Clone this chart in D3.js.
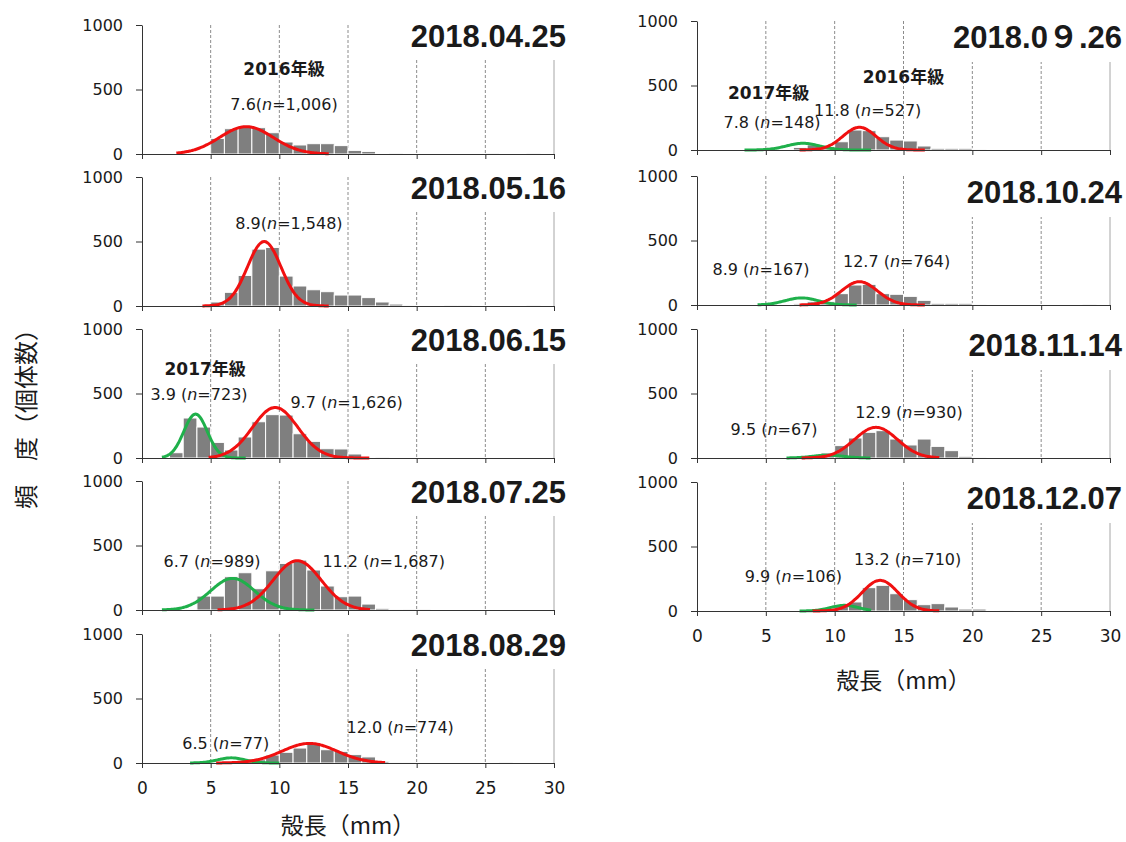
<!DOCTYPE html>
<html>
<head>
<meta charset="utf-8">
<script src="https://cdn.jsdelivr.net/npm/d3@7"></script>
<style>
  body { margin: 0; background: #fff; }
  svg { display: block; }
  text { font-family: "DejaVu Sans", "Noto Sans CJK JP", sans-serif; fill: #1a1a1a; }
</style>
</head>
<body>
<script>
let width = 1126;
let height = 842;

// lower edge of each 1 mm size class
let bins = [0, 1, 2, 3, 4, 5, 6, 7, 8, 9, 10, 11, 12, 13, 14, 15, 16, 17, 18, 19, 20, 21, 22, 23, 24, 25, 26, 27, 28, 29];
let xTicks = [0, 5, 10, 15, 20, 25, 30];
let yTicks = [0, 500, 1000];

let dates = ["2018.04.25", "2018.05.16", "2018.06.15", "2018.07.25", "2018.08.29",
             "2018.0９.26", "2018.10.24", "2018.11.14", "2018.12.07"];

// frequency (individuals) per size class
let freq0425 = [0, 0, 0, 0, 3, 121, 196, 212, 204, 165, 93, 70, 80, 80, 65, 28, 20, 5, 2, 0, 0, 0, 0, 0, 0, 2, 0, 0, 2, 0];
let freq0516 = [0, 0, 0, 0, 8, 31, 106, 237, 441, 454, 232, 155, 126, 111, 85, 85, 65, 31, 15, 3, 0, 0, 2, 2, 0, 0, 0, 0, 2, 0];
let freq0615 = [0, 0, 41, 310, 240, 121, 62, 163, 281, 336, 333, 188, 129, 72, 70, 31, 5, 2, 0, 0, 0, 0, 0, 0, 0, 0, 0, 0, 0, 0];
let freq0725 = [0, 0, 0, 0, 108, 108, 258, 289, 165, 304, 361, 387, 310, 186, 103, 108, 46, 13, 3, 2, 2, 0, 0, 0, 0, 0, 0, 0, 0, 0];
let freq0829 = [0, 0, 0, 0, 3, 5, 10, 10, 25, 62, 83, 116, 155, 103, 90, 65, 47, 13, 3, 3, 0, 0, 0, 0, 0, 0, 2, 0, 0, 0];
let freq0926 = [0, 0, 0, 0, 0, 0, 5, 20, 40, 26, 64, 155, 150, 103, 77, 70, 31, 13, 13, 13, 3, 0, 0, 0, 0, 0, 0, 0, 0, 0];
let freq1024 = [0, 0, 0, 0, 0, 0, 0, 10, 25, 25, 88, 155, 160, 88, 83, 67, 36, 13, 13, 13, 3, 0, 0, 0, 0, 0, 0, 0, 2, 0];
let freq1114 = [0, 0, 0, 0, 0, 0, 0, 0, 8, 39, 96, 155, 199, 212, 147, 101, 147, 90, 57, 13, 3, 0, 0, 0, 0, 0, 0, 0, 0, 0];
let freq1207 = [0, 0, 0, 0, 0, 0, 0, 0, 5, 15, 44, 70, 181, 199, 134, 88, 49, 57, 31, 15, 15, 0, 3, 0, 0, 0, 0, 0, 0, 0];
let freqs = [freq0425, freq0516, freq0615, freq0725, freq0829, freq0926, freq1024, freq1114, freq1207];

// fitted normal components: [mean, sd, peak height, from, to]  (null = none)
let cohort2017 = [null, null,
    [3.9, 0.85, 341, 1.45, 7.6],
    [6.6, 1.6, 245, 1.45, 12.6],
    [6.5, 1.0, 40, 3.5, 10.0],
    [7.7, 1.2, 52, 3.45, 12.65],
    [7.6, 1.2, 55, 4.4, 11.6],
    [9.5, 1.1, 22, 6.5, 12.65],
    [10.7, 1.0, 44, 7.45, 12.65]];
let cohort2016 = [
    [7.6, 1.95, 212, 2.5, 13.6],
    [8.9, 1.22, 500, 4.4, 13.6],
    [9.7, 1.65, 392, 4.85, 16.6],
    [11.3, 1.75, 382, 5.5, 16.6],
    [12.2, 2.0, 152, 5.4, 17.7],
    [11.8, 1.2, 176, 7.45, 16.6],
    [11.8, 1.3, 181, 7.45, 16.6],
    [13.0, 1.55, 238, 7.6, 17.6],
    [13.3, 1.3, 238, 8.4, 17.6]];

// mean shell length and n written on each panel
let means2017 = [null, null, "3.9", "6.7", "6.5", "7.8", "8.9", "9.5", "9.9"];
let counts2017 = [null, null, "723", "989", "77", "148", "167", "67", "106"];
let means2016 = ["7.6", "8.9", "9.7", "11.2", "12.0", "11.8", "12.7", "12.9", "13.2"];
let counts2016 = ["1,006", "1,548", "1,626", "1,687", "774", "527", "764", "930", "710"];

// label anchors in data units [mm, count]
let pos2017 = [null, null, [4.15, 450], [5.1, 333], [6.1, 109], [5.45, 171], [4.65, 233], [5.6, 178], [7.0, 225]];
let pos2016 = [[10.34, 341], [10.7, 597], [14.9, 388], [17.6, 333], [18.8, 233], [12.4, 264], [14.5, 295], [15.4, 310], [15.3, 357]];
let cohortTitles = [
    { panel: 0, text: "2016年級", at: [10.34, 612] },
    { panel: 2, text: "2017年級", at: [4.6, 643] },
    { panel: 5, text: "2017年級", at: [5.2, 395] },
    { panel: 5, text: "2016年級", at: [15.0, 519] }];

// panel frames
let columns = [
    { x0: 142, x1: 554, tops: [25, 177, 329, 481, 634], first: 0, dateDy: 22, boxH: 35 },
    { x0: 697, x1: 1110, tops: [21, 176, 329, 482], first: 5, dateDy: 27, boxH: 41 }];
let panelH = 129;

let svg = d3.select("body").append("svg")
    .attr("width", width)
    .attr("height", height);

let gauss = (c, x) => c[2] * Math.exp(-((x - c[0]) ** 2) / (2 * c[1] * c[1]));

columns.forEach((col) => {
    col.tops.forEach((top, row) => {
        let i = col.first + row;
        let bottom = top + panelH;
        let last = row === col.tops.length - 1;
        let x = d3.scaleLinear().domain([0, 30]).range([col.x0, col.x1]);
        let y = d3.scaleLinear().domain([0, 1000]).range([bottom, top]);
        let g = svg.append("g");

        // vertical grid
        g.selectAll("line.grid")
            .data(xTicks.slice(1))
            .enter()
            .append("line")
            .attr("x1", d => x(d)).attr("x2", d => x(d))
            .attr("y1", top).attr("y2", bottom)
            .attr("stroke", d => d === 30 ? "#a6a6a6" : "#8c8c8c")
            .attr("stroke-width", 1)
            .attr("stroke-dasharray", d => d === 30 ? null : "3,2");

        // white box behind the date
        g.append("rect")
            .attr("x", col.x1 - 150)
            .attr("y", top - 16)
            .attr("width", 172)
            .attr("height", col.boxH + 16)
            .attr("fill", "#fff");

        // bars
        g.selectAll("rect.bar")
            .data(bins.map((b, k) => ({ b: b, v: freqs[i][k] })).filter(d => d.v > 0))
            .enter()
            .append("rect")
            .attr("class", "bar")
            .attr("x", d => x(d.b))
            .attr("width", d => x(d.b + 1) - x(d.b))
            .attr("y", d => y(d.v))
            .attr("height", d => y(0) - y(d.v))
            .attr("fill", "#7f7f7f")
            .attr("stroke", "#fff")
            .attr("stroke-width", 1);

        // fitted curves
        let line = d3.line().x(d => x(d[0])).y(d => y(d[1])).curve(d3.curveBasis);
        [[cohort2017[i], "#1fb04b"], [cohort2016[i], "#f01010"]].forEach(([c, color]) => {
            if (!c) return;
            let pts = d3.range(c[3], c[4] + 0.001, 0.1).map(v => [v, gauss(c, v)]);
            g.append("path")
                .attr("d", line(pts))
                .attr("fill", "none")
                .attr("stroke", color)
                .attr("stroke-width", 3);
        });

        // axes
        let yAxis = g.append("g")
            .attr("transform", `translate(${col.x0},0)`)
            .call(d3.axisLeft(y).tickValues(yTicks).tickFormat(d3.format("d"))
                .tickSize(6).tickSizeOuter(0).tickPadding(13));
        yAxis.selectAll("text").style("font-size", "16px").attr("fill", "#1a1a1a");
        yAxis.selectAll("line, path").attr("stroke", "#333");

        let xAxis = g.append("g")
            .attr("transform", `translate(0,${bottom})`)
            .call(d3.axisBottom(x).tickValues(xTicks).tickSize(5).tickSizeOuter(0).tickPadding(14)
                .tickFormat(last ? d3.format("d") : () => ""));
        xAxis.selectAll("text").style("font-size", "17px").attr("fill", "#1a1a1a");
        xAxis.selectAll("line, path").attr("stroke", "#333");

        // mean (n) labels
        let addLabel = (mean, n, at) => {
            let t = g.append("text")
                .attr("x", x(at[0]))
                .attr("y", y(at[1]))
                .attr("text-anchor", "middle")
                .style("font-size", "16px");
            t.append("tspan").text(mean + (i < 2 ? "(" : " ("));
            t.append("tspan").style("font-style", "italic").text("n");
            t.append("tspan").text("=" + n + ")");
        };
        if (means2017[i]) addLabel(means2017[i], counts2017[i], pos2017[i]);
        addLabel(means2016[i], counts2016[i], pos2016[i]);

        cohortTitles.filter(d => d.panel === i).forEach(d => {
            g.append("text")
                .attr("x", x(d.at[0]))
                .attr("y", y(d.at[1]))
                .attr("text-anchor", "middle")
                .style("font-size", "17px")
                .style("font-weight", "bold")
                .text(d.text);
        });

        // date
        g.append("text")
            .attr("x", col.x1 + 12)
            .attr("y", top + col.dateDy)
            .attr("text-anchor", "end")
            .style("font-family", "'Liberation Sans', Arial, 'Noto Sans CJK JP', sans-serif")
            .style("font-size", "31px")
            .style("font-weight", "bold")
            .attr("fill", "#000")
            .text(dates[i]);
    });
});

// axis titles
svg.append("text")
    .attr("x", (columns[0].x0 + columns[0].x1) / 2)
    .attr("y", 834)
    .attr("text-anchor", "middle")
    .style("font-family", "'Noto Sans CJK JP', sans-serif")
    .style("font-size", "23px")
    .text("殻長（mm）");
svg.append("text")
    .attr("x", (columns[1].x0 + columns[1].x1) / 2)
    .attr("y", 689)
    .attr("text-anchor", "middle")
    .style("font-family", "'Noto Sans CJK JP', sans-serif")
    .style("font-size", "23px")
    .text("殻長（mm）");
svg.append("text")
    .attr("transform", "translate(24,413) rotate(-90)")
    .attr("text-anchor", "middle")
    .attr("dominant-baseline", "central")
    .style("font-family", "'Noto Sans CJK JP', sans-serif")
    .style("font-size", "24px")
    .text("頻　度（個体数）");
</script>
</body>
</html>
